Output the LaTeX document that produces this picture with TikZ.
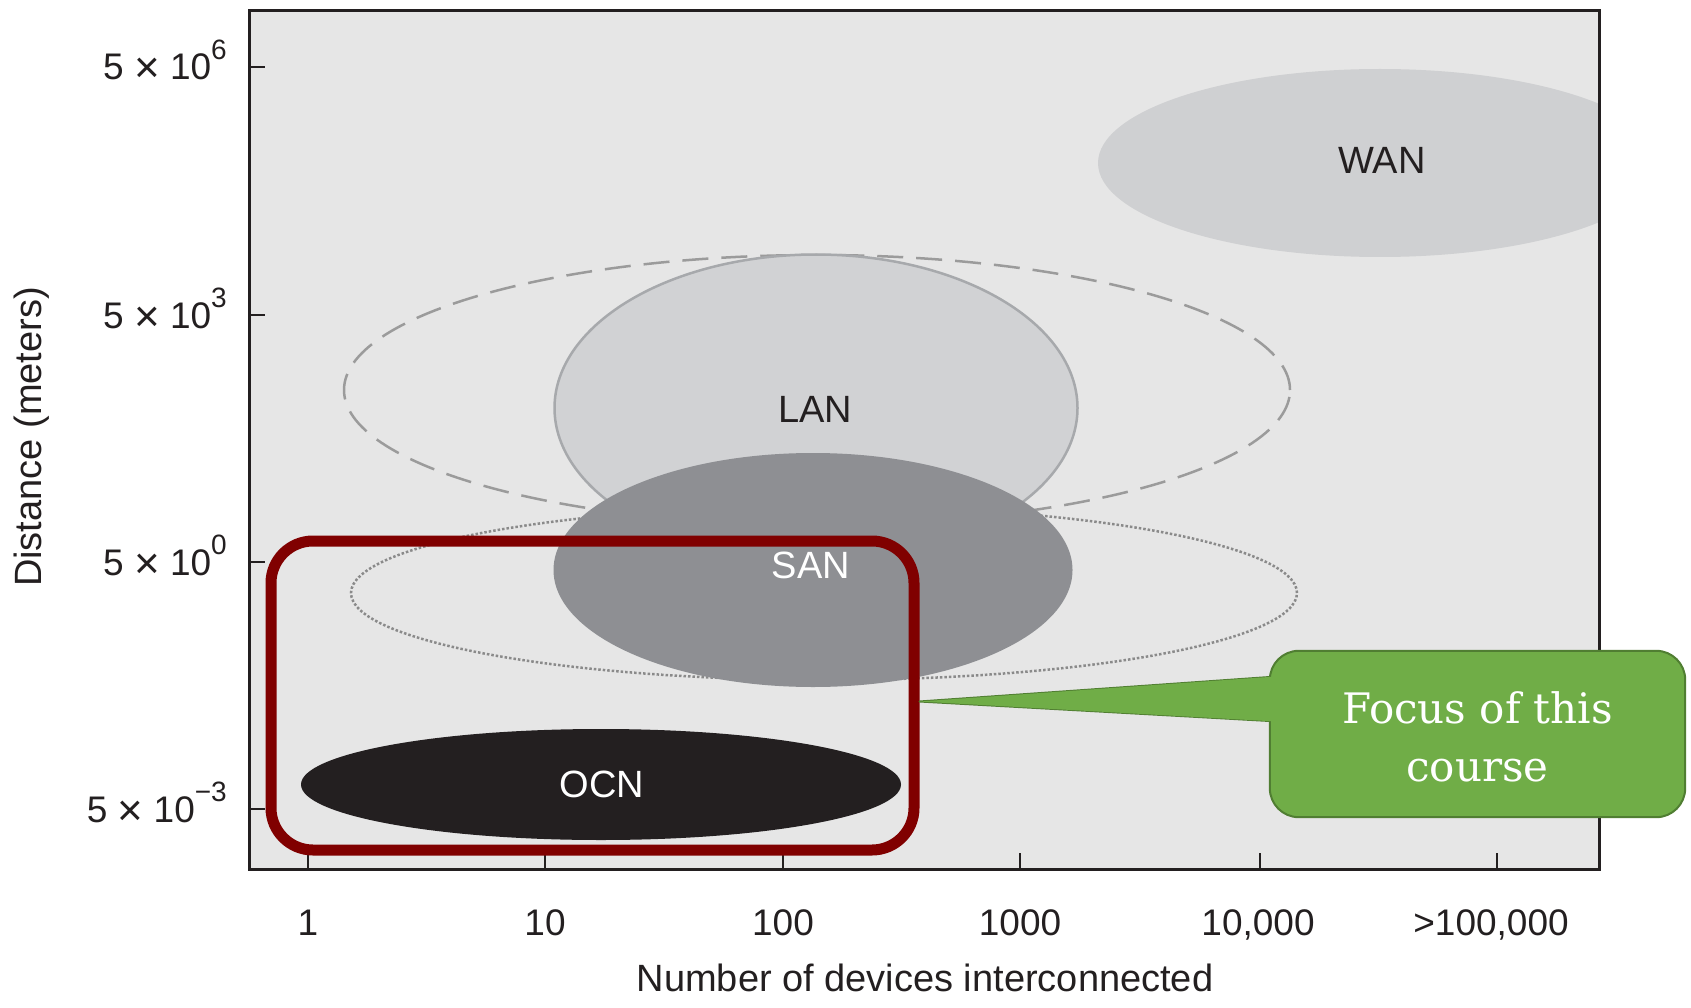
\documentclass[tikz,border=0pt]{standalone}
\usepackage{fontspec}
\setmainfont{Liberation Sans}
\newfontfamily\slabfont{DejaVu Serif}
\usetikzlibrary{shapes.geometric,calc}

\definecolor{plotbg}{HTML}{E6E6E6}
\definecolor{wanfill}{HTML}{CFD0D2}
\definecolor{lanfill}{HTML}{D1D2D4}
\definecolor{lanedge}{HTML}{A7A9AC}
\definecolor{sanfill}{HTML}{8E8F93}
\definecolor{ocnfill}{HTML}{231F20}
\definecolor{ink}{HTML}{231F20}
\definecolor{rangeline}{HTML}{9B9B9B}
\definecolor{dotline}{HTML}{8A8A8A}
\definecolor{boxred}{HTML}{800000}
\definecolor{callfill}{HTML}{70AD47}
\definecolor{calledge}{HTML}{507E32}

% raised exponent and enlarged multiplication sign for the axis labels
\newcommand\expo[1]{\raisebox{0.55em}{\fontsize{28}{30}\selectfont#1}}
\newcommand\bigtimes{\ \raisebox{-3pt}{\fontsize{44}{40}\selectfont ×}\ }

\tikzset{
  region/.style={ellipse, inner sep=0pt, draw=none},
  regionlbl/.style={font=\fontsize{38}{40}\selectfont, inner sep=0pt},
  ticklbl/.style={font=\fontsize{37}{40}\selectfont, text=ink, inner sep=0pt},
  axistitle/.style={font=\fontsize{38}{40}\selectfont, text=ink, inner sep=0pt},
  focusbox/.style={rectangle, draw=boxred, line width=11pt, rounded corners=42pt, inner sep=0pt},
  callbody/.style={fill=callfill, draw=calledge, line width=2pt},
  calltext/.style={rectangle, inner sep=0pt, text=white, align=center,
    font=\slabfont\fontsize{42}{58}\selectfont},
}

\begin{document}
\begin{tikzpicture}[x=1pt, y=-1pt]
\useasboundingbox (0,0) rectangle (1691,1008);
\fill[white] (0,0) rectangle (1691,1008);

% plot area
\coordinate (pnw) at (249,11);
\coordinate (pse) at (1599,869);
\fill[plotbg] (pnw) rectangle (pse);

% WAN region, cut off at the right edge of the plot
\begin{scope}
  \clip (pnw) rectangle (pse);
  \node[region, fill=wanfill, minimum width=564, minimum height=188] (wan) at (1380,163) {};
\end{scope}
\node[regionlbl, text=ink] (wanlbl) at (1382,160) {WAN};

% dashed range around LAN
\node[region, draw=rangeline, line width=2.5pt, dash pattern=on 26pt off 13pt,
      minimum width=946, minimum height=270] (lanrange) at (817,390) {};
% LAN region
\node[region, fill=lanfill, draw=lanedge, line width=2.5pt,
      minimum width=523, minimum height=307] (lan) at (816,408) {};
\node[regionlbl, text=ink] (lanlbl) at (815,409) {LAN};

% dotted range around SAN
\node[region, draw=dotline, line width=2.5pt, dash pattern=on 2.5pt off 2pt,
      minimum width=946, minimum height=174] (sanrange) at (824,593) {};
% SAN region
\node[region, fill=sanfill, minimum width=519, minimum height=234] (san) at (813,570) {};
\node[regionlbl, text=white] (sanlbl) at (811,565) {SAN};

% OCN region
\node[region, fill=ocnfill, minimum width=600, minimum height=111] (ocn) at (601,784.5) {};
\node[regionlbl, text=white] (ocnlbl) at (602,784) {OCN};

% frame and ticks
\draw[ink, line width=3pt] (pnw) rectangle (pse);
\foreach \yy in {67,315,562,809} {
  \draw[ink, line width=2.5pt] (249,\yy) -- (265,\yy);
}
\foreach \xx in {308,545,783,1020,1260,1497} {
  \draw[ink, line width=2.5pt] (\xx,869) -- (\xx,853);
}

% y tick labels
\node[ticklbl, anchor=base east] (y6) at (227,80) {5\bigtimes10\expo{6}};
\node[ticklbl, anchor=base east] (y3) at (227,328) {5\bigtimes10\expo{3}};
\node[ticklbl, anchor=base east] (y0) at (227,575) {5\bigtimes10\expo{0}};
\node[ticklbl, anchor=base east] (ym3) at (227,822) {5\bigtimes10\expo{−3}};

% x tick labels
\node[ticklbl, anchor=base] (x1) at (308,935) {1};
\node[ticklbl, anchor=base] (x10) at (545,935) {10};
\node[ticklbl, anchor=base] (x100) at (783,935) {100};
\node[ticklbl, anchor=base] (x1000) at (1020,935) {1000};
\node[ticklbl, anchor=base] (x10k) at (1258,935) {10,000};
\node[ticklbl, anchor=base] (x100k) at (1491,935) {>100,000};

% axis titles
\node[axistitle, anchor=base] (xtitle) at (925,991) {Number of devices interconnected};
\node[axistitle, rotate=90] (ytitle) at (32,437) {Distance (meters)};

% highlighted area
\node[focusbox, minimum width=643, minimum height=309] (focus) at (592.5,695.5) {};

% callout with its pointer
\node[minimum width=415, minimum height=166, inner sep=0pt] (course) at (1477.5,734) {};
\coordinate (tip) at ($(focus.east)+(0,6)$);
\draw[callbody, line join=round] ($(course.west)+(0,-57)$) -- (tip) -- ($(course.west)+(0,-13)$) -- cycle;
\draw[callbody] (course.south west) [rounded corners=29pt] rectangle (course.north east);
\fill[callfill] ($(course.west)+(6,-57.5)$) -- (tip) -- ($(course.west)+(6,-12.5)$) -- cycle;
\node[calltext] (coursetext) at ($(course.center)+(0,3)$) {Focus of this\\course};
\end{tikzpicture}
\end{document}
